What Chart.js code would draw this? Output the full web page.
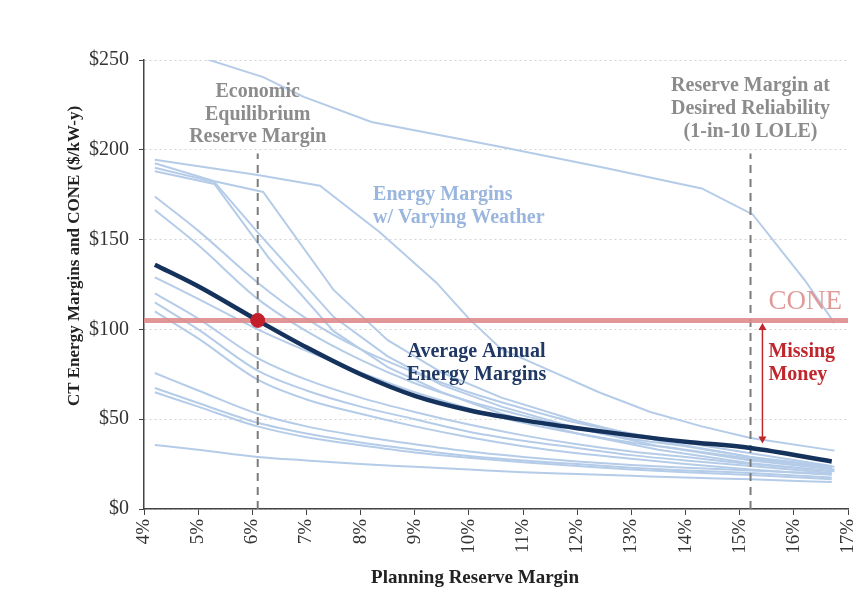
<!DOCTYPE html>
<html>
<head>
<meta charset="utf-8">
<script src="https://cdn.jsdelivr.net/npm/chart.js@4.4.1/dist/chart.umd.min.js"></script>
<style>
  body { margin: 0; background: #fff; }
  #wrap { width: 856px; height: 595px; position: relative; }
</style>
</head>
<body>
<div id="wrap"><canvas id="margin_chart"></canvas></div>
<script>
// planning reserve margin (%) where the smooth curves are sampled
const marginGrid = [4.2, 5, 6.1, 7, 8, 9, 10, 11, 12, 13, 14, 15.2, 16.7];

// average annual energy margins ($/kW-y)
const avgMargins = [136, 124, 105, 90, 75, 63, 55, 49.5, 45, 41, 37.5, 34, 26.5];

// weather years with kinks: [reserve margin %, $/kW-y]
const weatherKinked = [
  [[5.0, 252], [6.2, 240.5], [6.95, 229.5], [8.2, 215.5], [10.6, 201.5], [12.5, 190], [14.3, 178.5], [15.24, 164], [16.2, 127.5], [16.75, 103.5]],
  [[4.2, 194.5], [6.1, 186], [7.25, 180], [8.36, 154], [9.4, 126], [10.0, 106], [10.6, 89], [11.5, 77], [12.4, 65], [13.35, 54], [14.3, 46], [15.2, 39.5], [16.75, 32.5]],
  [[4.2, 192.5], [5.3, 182.5], [6.2, 176.5], [7.5, 122], [8.5, 94], [9.5, 76], [10.6, 62], [12, 49], [13.5, 38], [15.2, 29], [16.75, 23.5]],
  [[4.2, 190], [5.3, 182], [6.1, 154], [7.5, 107], [8.5, 85], [9.5, 69], [10.6, 57], [12, 45], [13.5, 35], [15.2, 27], [16.75, 22]],
  [[4.2, 188], [5.3, 181], [6.3, 140], [7.5, 99], [8.5, 79], [9.5, 65], [10.6, 53], [12, 42], [13.5, 33], [15.2, 25.5], [16.75, 21]]
];

// smoother weather years, sampled on marginGrid
const weatherSmooth = [
  [174, 155, 126, 106, 89, 76, 65, 56, 48, 42, 37, 31, 24],
  [166.5, 147, 117, 99, 83, 70, 60, 52, 45, 39, 35, 29, 23],
  [129, 117, 100, 88, 76, 65, 56, 48, 42, 37, 33, 28, 22.5],
  [120, 106, 84, 72, 62, 54, 47, 41, 36, 32, 29, 25, 21],
  [115, 100, 77, 66, 57, 50, 43, 38, 34, 30, 27, 24, 20],
  [110, 95, 72, 61, 53, 46, 40, 35, 31, 28, 25, 22, 19],
  [75.7, 66, 53, 46, 40.5, 36, 32, 29, 26.5, 24.5, 23, 21.5, 19.5],
  [67.4, 59, 48, 42, 37, 33, 29.5, 27, 25, 23, 21.5, 20, 17.5],
  [65, 57, 46, 40, 35.5, 31.5, 28.5, 26, 24, 22, 20.5, 19, 16.5],
  [35.6, 33, 29, 27, 25, 23.5, 22, 20.5, 19.5, 18.5, 17.5, 16.5, 15]
];

const cone = 105;
const equilibriumRM = 6.1;
const reliabilityRM = 15.2;
const missingMoneyX = 15.42;
const missingMoneyLow = 36.5;

const xTicks = [4, 5, 6, 7, 8, 9, 10, 11, 12, 13, 14, 15, 16, 17];
const yTicks = [0, 50, 100, 150, 200, 250];

const serif = "'Liberation Serif', 'Times New Roman', serif";
const lightBlue = "#b5cce9";

const datasets = [];
weatherKinked.forEach(pts => {
  datasets.push({
    data: pts.map(p => ({ x: p[0], y: p[1] })),
    borderColor: lightBlue, borderWidth: 2, tension: 0, pointRadius: 0, order: 6
  });
});
weatherSmooth.forEach(vals => {
  datasets.push({
    data: vals.map((v, i) => ({ x: marginGrid[i], y: v })),
    borderColor: lightBlue, borderWidth: 2, cubicInterpolationMode: "monotone", pointRadius: 0, order: 6
  });
});
// dashed reserve margin markers
[equilibriumRM, reliabilityRM].forEach(rm => {
  datasets.push({
    data: [{ x: rm, y: 0 }, { x: rm, y: 198 }],
    borderColor: "#7b7b7b", borderWidth: 2, borderDash: [8, 6], pointRadius: 0, order: 4
  });
});
datasets.push({
  data: [{ x: 4, y: cone }, { x: 17, y: cone }],
  borderColor: "rgba(222,140,140,0.9)", borderWidth: 5, pointRadius: 0, order: 3
});
datasets.push({
  data: avgMargins.map((v, i) => ({ x: marginGrid[i], y: v })),
  borderColor: "#14325c", borderWidth: 4.5, cubicInterpolationMode: "monotone", pointRadius: 0, order: 2
});
datasets.push({
  data: [{ x: equilibriumRM, y: cone }],
  showLine: false, pointRadius: 7, pointBackgroundColor: "#c21f2a", pointBorderColor: "#c21f2a", order: 1
});

const notes = {
  id: "notes",
  afterDatasetsDraw(chart) {
    const ctx = chart.ctx;
    const xs = chart.scales.x, ys = chart.scales.y;
    const put = (lines, x, y, color, align, size, bold, gap) => {
      ctx.save();
      ctx.fillStyle = color;
      ctx.textAlign = align;
      ctx.textBaseline = "middle";
      ctx.font = (bold ? "bold " : "") + size + "px " + serif;
      lines.forEach((t, i) => ctx.fillText(t, xs.getPixelForValue(x), ys.getPixelForValue(y) + i * gap));
      ctx.restore();
    };
    put(["Economic", "Equilibrium", "Reserve Margin"], equilibriumRM, 232, "#8c8c8c", "center", 20, true, 22.5);
    put(["Reserve Margin at", "Desired Reliability", "(1-in-10 LOLE)"], reliabilityRM, 235.5, "#8c8c8c", "center", 20, true, 23);
    put(["Energy Margins", "w/ Varying Weather"], 8.23, 174.8, "#9ab6de", "left", 20, true, 23);
    put(["Average Annual", "Energy Margins"], 10.14, 87.4, "#1f3864", "center", 20, true, 23);
    put(["Missing", "Money"], 15.53, 87.4, "#c0272d", "left", 20, true, 23);
    put(["CONE"], 15.53, 115.3, "#e09a9a", "left", 27, false, 0);

    // missing money double arrow
    const ax = xs.getPixelForValue(missingMoneyX);
    const top = ys.getPixelForValue(cone) + 2.5;
    const bot = ys.getPixelForValue(missingMoneyLow);
    ctx.save();
    ctx.strokeStyle = "#c0272d";
    ctx.fillStyle = "#c0272d";
    ctx.lineWidth = 1.5;
    ctx.beginPath();
    ctx.moveTo(ax, top + 4);
    ctx.lineTo(ax, bot - 4);
    ctx.stroke();
    ctx.beginPath();
    ctx.moveTo(ax, top); ctx.lineTo(ax - 4, top + 7); ctx.lineTo(ax + 4, top + 7); ctx.closePath();
    ctx.moveTo(ax, bot); ctx.lineTo(ax - 4, bot - 7); ctx.lineTo(ax + 4, bot - 7); ctx.closePath();
    ctx.fill();
    ctx.restore();

    // axis titles
    ctx.save();
    ctx.fillStyle = "#222";
    ctx.textAlign = "center";
    ctx.textBaseline = "middle";
    ctx.font = "bold 19px " + serif;
    ctx.fillText("Planning Reserve Margin", 475, 578);
    ctx.translate(75, 256);
    ctx.rotate(-Math.PI / 2);
    ctx.font = "bold 17px " + serif;
    ctx.fillText("CT Energy Margins and CONE ($/kW-y)", 0, 0);
    ctx.restore();
  }
};

const margin_chart = new Chart(document.getElementById("margin_chart"), {
  type: "line",
  data: { datasets: datasets },
  plugins: [notes],
  options: {
    responsive: true,
    maintainAspectRatio: false,
    animation: false,
    events: [],
    layout: { padding: { top: 60, right: 7, left: 0, bottom: 0 } },
    plugins: { legend: { display: false }, tooltip: { enabled: false } },
    scales: {
      x: {
        type: "linear",
        min: 4,
        max: 17,
        afterBuildTicks: s => { s.ticks = xTicks.map(v => ({ value: v })); },
        afterFit: s => { s.height = 86; s.paddingLeft = 0; s.paddingRight = 0; },
        ticks: {
          autoSkip: false, minRotation: 90, maxRotation: 90, padding: 4,
          color: "#333", font: { family: serif, size: 19, lineHeight: 1 },
          callback: v => v + "%"
        },
        grid: { drawOnChartArea: false, tickLength: 6, color: "#444", lineWidth: 1 },
        border: { color: "#444", width: 1.5 }
      },
      y: {
        min: 0,
        max: 250,
        afterBuildTicks: s => { s.ticks = yTicks.map(v => ({ value: v })); },
        afterFit: s => { s.width = 144; },
        ticks: {
          padding: 10, color: "#333", font: { family: serif, size: 20 },
          callback: v => "$" + v
        },
        grid: { color: "#d4d4d4", lineWidth: 1, tickColor: "#444", tickLength: 5 },
        border: { color: "#444", width: 1.5, dash: [2, 3] }
      }
    }
  }
});
</script>
</body>
</html>
